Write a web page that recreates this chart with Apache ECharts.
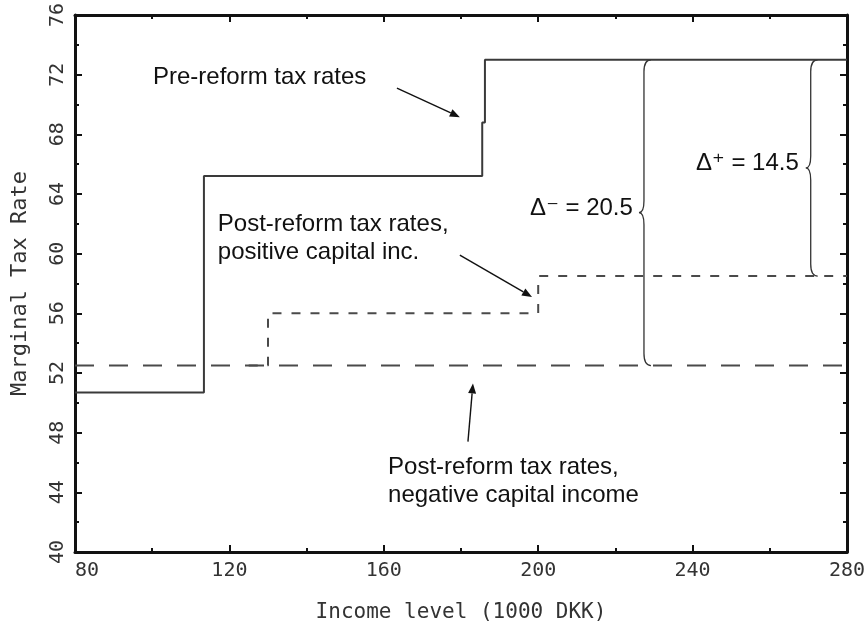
<!DOCTYPE html>
<html>
<head>
<meta charset="utf-8">
<script src="https://cdn.jsdelivr.net/npm/echarts@6/dist/echarts.min.js"></script>
<style>
html,body{margin:0;padding:0;background:#fff;}
#chart{width:867px;height:626px;}
</style>
</head>
<body>
<div id="chart"></div>
<script>
// ---- data ----
const preX = [80, 113.4, 185.5, 186.2, 280];
const preY = [50.7, 65.2, 68.8, 73, 73];
const posX = [125, 130, 200, 280];
const posY = [52.5, 56, 58.5, 58.5];
const negX = [80, 280];
const negY = [52.5, 52.5];
// braces: [x, low, high]
const braces = [[227.4, 52.5, 73], [270.6, 58.5, 73]];
// arrows: [x0, y0, x1(tip), y1(tip)]
const arrows = [[163.4, 71.1, 179.7, 69.15], [179.7, 59.9, 198.4, 57.1], [181.8, 47.4, 183.1, 51.3]];
// notes: [x(left), y(middle), text]
const notes = [
  [100.2, 71.8, 'Pre-reform tax rates'],
  [117.0, 61.05, 'Post-reform tax rates,\npositive capital inc.'],
  [197.9, 63.06, 'Δ\u207B = 20.5'],
  [240.9, 66.07, 'Δ\u207A = 14.5'],
  [161.1, 44.76, 'Post-reform tax rates,\nnegative capital income']
];
const xTitle = 'Income level (1000 DKK)';
const yTitle = 'Marginal Tax Rate';

const zip = (a, b) => a.map((v, i) => [v, b[i]]);
const axisFont = '"DejaVu Sans Mono", monospace';
const noteFont = '"Liberation Sans", Arial, "DejaVu Sans", sans-serif';
const frame = '#111';

function mkX(pos, showLabel) {
  return {
    type: 'value', position: pos, min: 80, max: 280, interval: 40,
    axisLine: { show: true, onZero: false, lineStyle: { color: frame, width: 3 } },
    axisTick: { show: true, inside: true, length: 7, lineStyle: { color: frame, width: 2 } },
    minorTick: { show: true, splitNumber: 2, length: 4, lineStyle: { color: frame, width: 2 } },
    splitLine: { show: false },
    axisLabel: { show: showLabel, color: '#333', fontFamily: axisFont, fontSize: 20, margin: 9, alignMinLabel: 'left' },
    name: showLabel ? xTitle : '', nameLocation: 'middle', nameGap: 50,
    nameTextStyle: { color: '#333', fontFamily: axisFont, fontSize: 21 }
  };
}
function mkY(pos, showLabel) {
  return {
    type: 'value', position: pos, min: 40, max: 76, interval: 4,
    axisLine: { show: true, onZero: false, lineStyle: { color: frame, width: 3 } },
    axisTick: { show: true, inside: true, length: 7, lineStyle: { color: frame, width: 2 } },
    minorTick: { show: true, splitNumber: 2, length: 4, lineStyle: { color: frame, width: 2 } },
    splitLine: { show: false },
    axisLabel: { show: showLabel, rotate: 90, color: '#333', fontFamily: axisFont, fontSize: 20, margin: 7 },
    name: showLabel ? yTitle : '', nameLocation: 'middle', nameGap: 44,
    nameTextStyle: { color: '#333', fontFamily: axisFont, fontSize: 22 }
  };
}

const chart = echarts.init(document.getElementById('chart'), null, { renderer: 'canvas' });
chart.setOption({
  animation: false,
  backgroundColor: '#fff',
  grid: { left: 75, right: 20, top: 15, bottom: 74, outerBoundsMode: 'none' },
  xAxis: [mkX('bottom', true), mkX('top', false)],
  yAxis: [mkY('left', true), mkY('right', false)],
  series: [
    { type: 'line', name: 'pre', data: zip(preX, preY), step: 'end', symbol: 'none',
      lineStyle: { color: '#3a3a3a', width: 2 } },
    { type: 'line', name: 'neg', data: zip(negX, negY), symbol: 'none',
      lineStyle: { color: '#4a4a4a', width: 2, type: [19, 15] } },
    { type: 'line', name: 'pos', data: zip(posX, posY), step: 'end', symbol: 'none',
      lineStyle: { color: '#4a4a4a', width: 2, type: [9, 10] } },
    { type: 'custom', name: 'braces', data: braces, silent: true,
      renderItem: function (params, api) {
        const x = api.value(0), lo = api.value(1), hi = api.value(2);
        const pT = api.coord([x, hi]), pB = api.coord([x, lo]);
        const x0 = pT[0], yT = pT[1], yB = pB[1], ym = (yT + yB) / 2;
        const w = 7, h = 12, t = 5;
        const d = 'M' + (x0 + w) + ' ' + yT +
          ' Q' + x0 + ' ' + yT + ' ' + x0 + ' ' + (yT + h) +
          ' L' + x0 + ' ' + (ym - h) +
          ' Q' + x0 + ' ' + ym + ' ' + (x0 - t) + ' ' + ym +
          ' Q' + x0 + ' ' + ym + ' ' + x0 + ' ' + (ym + h) +
          ' L' + x0 + ' ' + (yB - h) +
          ' Q' + x0 + ' ' + yB + ' ' + (x0 + w) + ' ' + yB;
        return { type: 'path', shape: { pathData: d }, style: { fill: null, stroke: '#333', lineWidth: 1.3 } };
      } },
    { type: 'custom', name: 'arrows', data: arrows, silent: true,
      renderItem: function (params, api) {
        const p0 = api.coord([api.value(0), api.value(1)]);
        const p1 = api.coord([api.value(2), api.value(3)]);
        const dx = p1[0] - p0[0], dy = p1[1] - p0[1], L = Math.hypot(dx, dy);
        const ux = dx / L, uy = dy / L, hl = 10, hw = 4;
        const bx = p1[0] - ux * hl, by = p1[1] - uy * hl;
        return { type: 'group', children: [
          { type: 'line', shape: { x1: p0[0], y1: p0[1], x2: bx, y2: by }, style: { stroke: '#111', lineWidth: 1.4 } },
          { type: 'polygon', shape: { points: [[p1[0], p1[1]], [bx - uy * hw, by + ux * hw], [bx + uy * hw, by - ux * hw]] },
            style: { fill: '#111' } }
        ] };
      } },
    { type: 'custom', name: 'notes', data: notes.map(n => [n[0], n[1]]), silent: true,
      renderItem: function (params, api) {
        const p = api.coord([api.value(0), api.value(1)]);
        return { type: 'text', x: p[0], y: p[1],
          style: { text: notes[params.dataIndex][2], fill: '#111', fontFamily: noteFont, fontSize: 24,
            lineHeight: 28, align: 'left', verticalAlign: 'middle' } };
      } }
  ]
});
</script>
</body>
</html>
